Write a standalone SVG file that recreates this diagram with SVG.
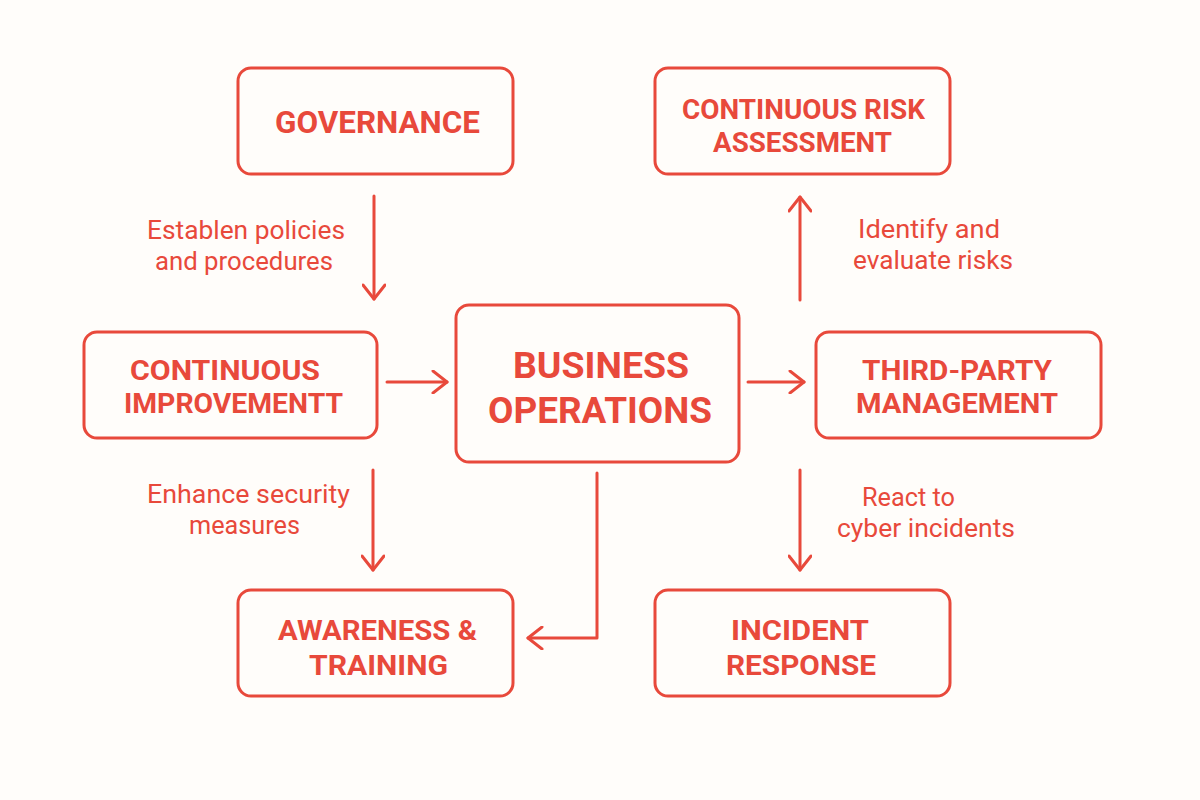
<svg xmlns="http://www.w3.org/2000/svg" width="1200" height="800" viewBox="0 0 1200 800">
<defs>
<style>
.box{fill:#fffdfa;stroke:#e8493b;stroke-width:3}
.nt{font-family:Roboto,"Liberation Sans",sans-serif;font-weight:700;font-size:28px;fill:#e8493b}
.one{font-size:31px}
.big{font-size:37px}
.lb{font-family:Roboto,"Liberation Sans",sans-serif;font-size:25px;fill:#e8493b}
.ln{fill:none;stroke:#e8493b;stroke-width:3;stroke-linecap:round;stroke-linejoin:round}
</style>
<marker id="ah" viewBox="0 0 24 24" refX="20" refY="12" markerWidth="24" markerHeight="24" markerUnits="userSpaceOnUse" orient="auto">
<path d="M6,1 L20,12 L6,23" fill="none" stroke="#e8493b" stroke-width="3" stroke-linecap="round" stroke-linejoin="round"/>
</marker>
</defs>
<rect width="1200" height="800" fill="#fffdfa"/>
<g id="governance"><rect class="box" x="238" y="68" width="275" height="106" rx="13"/><text class="nt one" x="275" y="133" textLength="205" lengthAdjust="spacingAndGlyphs">GOVERNANCE</text></g>
<g id="risk"><rect class="box" x="655" y="68" width="295" height="106" rx="13"/><text class="nt" x="682" y="119" textLength="243" lengthAdjust="spacingAndGlyphs">CONTINUOUS RISK</text><text class="nt" x="713" y="152" textLength="179" lengthAdjust="spacingAndGlyphs">ASSESSMENT</text></g>
<g id="improvement"><rect class="box" x="84" y="332" width="293" height="106" rx="13"/><text class="nt" x="130" y="380" textLength="190" lengthAdjust="spacingAndGlyphs">CONTINUOUS</text><text class="nt" x="124" y="413" textLength="219" lengthAdjust="spacingAndGlyphs">IMPROVEMENTT</text></g>
<g id="business"><rect class="box" x="456" y="305" width="283" height="157" rx="13"/><text class="nt big" x="513" y="378" textLength="176" lengthAdjust="spacingAndGlyphs">BUSINESS</text><text class="nt big" x="488" y="423" textLength="224" lengthAdjust="spacingAndGlyphs">OPERATIONS</text></g>
<g id="thirdparty"><rect class="box" x="816" y="332" width="285" height="106" rx="13"/><text class="nt" x="862" y="380" textLength="190" lengthAdjust="spacingAndGlyphs">THIRD-PARTY</text><text class="nt" x="856" y="413" textLength="202" lengthAdjust="spacingAndGlyphs">MANAGEMENT</text></g>
<g id="awareness"><rect class="box" x="238" y="590" width="275" height="106" rx="13"/><text class="nt" x="278" y="640" textLength="199" lengthAdjust="spacingAndGlyphs">AWARENESS &amp;</text><text class="nt" x="309" y="675" textLength="139" lengthAdjust="spacingAndGlyphs">TRAINING</text></g>
<g id="incident"><rect class="box" x="655" y="590" width="295" height="106" rx="13"/><text class="nt" x="731" y="640" textLength="138" lengthAdjust="spacingAndGlyphs">INCIDENT</text><text class="nt" x="726" y="675" textLength="150" lengthAdjust="spacingAndGlyphs">RESPONSE</text></g>
<g id="connectors">
<path class="ln" d="M374,196 L374,299" marker-end="url(#ah)"/>
<path class="ln" d="M387,382 L447,382" marker-end="url(#ah)"/>
<path class="ln" d="M748,382 L804,382" marker-end="url(#ah)"/>
<path class="ln" d="M800,300 L800,197" marker-end="url(#ah)"/>
<path class="ln" d="M800,470 L800,570" marker-end="url(#ah)"/>
<path class="ln" d="M373,470 L373,570" marker-end="url(#ah)"/>
<path class="ln" d="M597,473 L597,638 L528,638" marker-end="url(#ah)"/>
</g>
<g id="labels">
<text class="lb" x="147" y="239" textLength="198" lengthAdjust="spacingAndGlyphs">Establen policies</text><text class="lb" x="155" y="270" textLength="178" lengthAdjust="spacingAndGlyphs">and procedures</text>
<text class="lb" x="858" y="238" textLength="142" lengthAdjust="spacingAndGlyphs">Identify and</text><text class="lb" x="853" y="269" textLength="160" lengthAdjust="spacingAndGlyphs">evaluate risks</text>
<text class="lb" x="147" y="503" textLength="203" lengthAdjust="spacingAndGlyphs">Enhance security</text><text class="lb" x="189" y="534" textLength="111" lengthAdjust="spacingAndGlyphs">measures</text>
<text class="lb" x="862" y="506" textLength="93" lengthAdjust="spacingAndGlyphs">React to</text><text class="lb" x="837" y="537" textLength="178" lengthAdjust="spacingAndGlyphs">cyber incidents</text>
</g>
</svg>
